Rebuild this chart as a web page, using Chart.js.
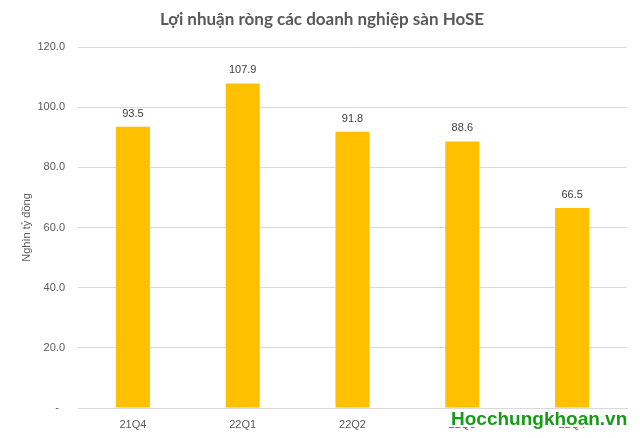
<!DOCTYPE html>
<html>
<head>
<meta charset="utf-8">
<script src="https://cdn.jsdelivr.net/npm/chart.js@4"></script>
<style>
html,body{margin:0;padding:0;background:#fff;}
#wrap{width:640px;height:438px;position:relative;}
</style>
</head>
<body>
<div id="wrap"><canvas id="c" width="640" height="438"></canvas></div>
<script>
const chartTitle = 'Lợi nhuận ròng các doanh nghiệp sàn HoSE';
const yAxisTitle = 'Nghìn tỷ đồng';
const categories = ['21Q4', '22Q1', '22Q2', '22Q3', '22Q4'];
const profit = [93.5, 107.9, 91.8, 88.6, 66.5];
const yTicks = [0, 20, 40, 60, 80, 100, 120];
const watermark = 'Hocchungkhoan.vn';

const labelPlugin = {
  id: 'labels',
  afterDatasetsDraw(chart) {
    const ctx = chart.ctx;
    const meta = chart.getDatasetMeta(0);
    ctx.save();
    ctx.font = '11px "Liberation Sans"';
    ctx.fillStyle = '#404040';
    ctx.textAlign = 'center';
    ctx.textBaseline = 'middle';
    meta.data.forEach((bar, i) => {
      ctx.fillText(profit[i].toFixed(1), bar.x, bar.y - 13);
    });
    ctx.restore();
  },
  afterDraw(chart) {
    const ctx = chart.ctx;
    ctx.save();
    ctx.font = 'bold 17px Lato';
    ctx.fillStyle = '#595959';
    ctx.textAlign = 'center';
    ctx.textBaseline = 'middle';
    ctx.fillText(chartTitle, 322, 20);
    ctx.fillStyle = '#ffffff';
    ctx.fillRect(446, 410, 186, 17);
    ctx.font = 'bold 19px "Liberation Sans"';
    ctx.fillStyle = '#179c17';
    ctx.textAlign = 'left';
    ctx.textBaseline = 'alphabetic';
    ctx.fillText(watermark, 451, 425);
    ctx.restore();
  }
};

new Chart(document.getElementById('c'), {
  type: 'bar',
  data: {
    labels: categories,
    datasets: [{
      data: profit,
      backgroundColor: '#FFC000',
      borderWidth: 0,
      barPercentage: 1,
      categoryPercentage: 0.31
    }]
  },
  options: {
    responsive: false,
    animation: false,
    devicePixelRatio: 1,
    layout: { padding: { top: 47, right: 13, bottom: 0, left: 0 } },
    plugins: { legend: { display: false }, tooltip: { enabled: false }, title: { display: false } },
    scales: {
      x: {
        grid: { display: false, drawTicks: false },
        border: { display: true, color: '#d9d9d9', width: 1 },
        ticks: { color: '#595959', font: { family: 'Liberation Sans', size: 11 }, padding: 10 },
        afterFit(s) { s.height = 30; }
      },
      y: {
        min: 0, max: 120,
        afterBuildTicks(s) { s.ticks = yTicks.map(v => ({ value: v })); },
        grid: { color: '#d9d9d9', drawTicks: false, lineWidth: 1 },
        border: { display: false },
        ticks: {
          color: '#595959',
          font: { family: 'Liberation Sans', size: 11 },
          padding: 13,
          callback: v => v === 0 ? '-  ' : Number(v).toFixed(1)
        },
        title: {
          display: true, text: yAxisTitle, color: '#595959',
          font: { family: 'Liberation Sans', size: 11 },
          padding: { top: 20, bottom: 0 }
        },
        afterFit(s) { s.width = 78; }
      }
    }
  },
  plugins: [labelPlugin]
});
</script>
</body>
</html>
